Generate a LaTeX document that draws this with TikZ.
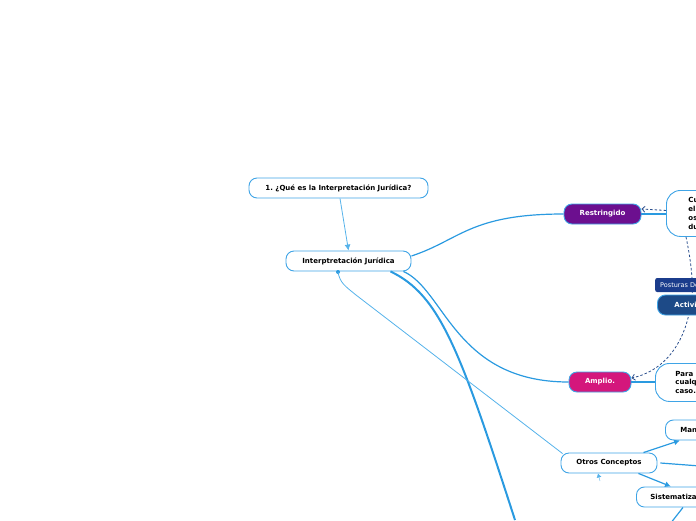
\documentclass[tikz,border=0pt]{standalone}
\usepackage{fontspec}
\setmainfont{DejaVu Sans}
\usetikzlibrary{arrows.meta}
\frenchspacing

\definecolor{boxline}{HTML}{3FA4E6}
\definecolor{mainline}{HTML}{2A9AE0}
\definecolor{thinline}{HTML}{55B2EA}
\definecolor{relline}{HTML}{2B4F8E}
\definecolor{restrfill}{HTML}{6C0F8F}
\definecolor{ampfill}{HTML}{D4177C}
\definecolor{activfill}{HTML}{1D4A87}
\definecolor{postfill}{HTML}{1B3C8C}

\begin{document}
\begin{tikzpicture}[x=1pt,y=-1pt,
  topic/.style={draw=boxline, line width=0.9pt, fill=white, rounded corners=8pt,
    minimum height=20pt, inner sep=0pt, font=\bfseries\fontsize{7}{8}\selectfont},
  subtopic/.style={topic, text=white},
  note/.style={topic, align=left, rounded corners=14pt, font=\bfseries\fontsize{7}{8.8}\selectfont},
  rel/.style={relline, line width=0.8pt, dashed, dash pattern=on 2.5pt off 2pt},
  link/.style={mainline, line width=1.2pt}]
\useasboundingbox (0,0) rectangle (696,520);
\clip (0,0) rectangle (696,520);

% main topics
\node[topic, minimum width=179pt] (que) at (338.5,188) {1. ¿Qué es la Interpretación Jurídica?};
\node[topic, minimum width=125pt] (interp) at (348.5,261) {Interptretación Jurídica};
\node[subtopic, fill=restrfill, minimum width=77pt] (restr) at (602.5,214) {Restringido};
\node[subtopic, fill=ampfill, minimum width=62pt] (amplio) at (600,382) {Amplio.};
\node[topic, minimum width=96pt] (otros) at (609,463) {Otros Conceptos};

% notes at the right edge
\node[note, anchor=north west, minimum height=46pt, text width=50pt, inner xsep=22pt] (cu) at (666,190) {Cu\\el\\os\\du};
\node[note, anchor=north west, minimum height=38pt, text width=50pt, inner xsep=20pt] (para) at (655,363) {Para\\cualq\\caso.};
\node[topic, anchor=west, text width=40pt, align=left, inner xsep=15pt] (man) at (665,430) {Man};
\node[topic, anchor=west, text width=50pt, align=left, inner xsep=14pt] (sist) at (636,497) {Sistematiza};

% connectors
\draw[thinline, line width=0.8pt, -{Latex[length=6pt,width=6pt]}] (que.south) ++(1.5,0) -- (interp.north);
\draw[link] ([yshift=5pt]interp.east) .. controls (460,240) and (470,214) .. (restr.west);
\draw[link] (restr.east) -- (cu.west |- restr.east);
\draw[link] ([xshift=-8pt]interp.south east) .. controls (445,290) and (455,382) .. (amplio.west);
\draw[link] (amplio.east) -- (para.west |- amplio.east);
\draw[mainline, line width=2pt] ([xshift=-21pt]interp.south east) .. controls (440,295) and (460,350) .. (515,520);
\fill[mainline] (338,272) circle (2pt) coordinate (dot);
\draw[thinline, line width=0.8pt] (dot) .. controls (340,283) and (345,286) .. (356,295) -- ([xshift=2pt,yshift=-1pt]otros.north west);
\draw[mainline, line width=1.2pt, -{Latex[length=6pt,width=6pt]}] ([xshift=-14pt]otros.north east) -- ([xshift=15pt]man.south west);
\draw[mainline, line width=1.2pt, -{Latex[length=6pt,width=6pt]}] ([xshift=-19pt]otros.south east) -- ([xshift=35pt]sist.north west);
\draw[mainline, line width=1.2pt] (otros.east) ++(3,0) -- (700,466);
\draw[mainline, line width=1.2pt] ([xshift=47pt]sist.south west) -- (670,524);
\draw[thinline, -{Latex[length=4pt,width=5pt]}] (600,481) -- ([xshift=-11pt]otros.south);

% relations
\draw[rel, -{Straight Barb[length=3pt,width=6pt]}] ([yshift=3pt]cu.west) -- ([yshift=5pt]restr.east);
\draw[rel, -{Straight Barb[length=3pt,width=6pt]}] ([xshift=20pt]cu.south west) .. controls (694,275) and (694,300) .. (688,318)
  .. controls (680,350) and (660,372) .. ([yshift=4pt]amplio.east);
\node[fill=postfill, text=white, rounded corners=2pt, anchor=west, minimum height=14pt, text width=50pt,
  inner xsep=5pt, inner ysep=0pt, align=left, font=\fontsize{6.5}{7.5}\selectfont] (post) at (655,285) {Posturas De};
\node[subtopic, fill=activfill, anchor=west, text width=40pt, align=left, inner xsep=17pt] (activ) at (657,305) {Activi};
\end{tikzpicture}
\end{document}
